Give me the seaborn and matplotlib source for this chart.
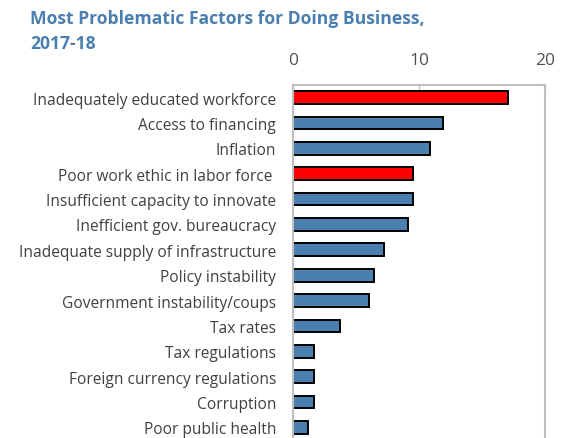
import matplotlib
matplotlib.use("Agg")
import matplotlib.pyplot as plt
import seaborn as sns
import pandas as pd
import numpy as np

factors = [
    "Inadequately educated workforce",
    "Access to financing",
    "Inflation",
    "Poor work ethic in labor force ",
    "Insufficient capacity to innovate",
    "Inefficient gov. bureaucracy",
    "Inadequate supply of infrastructure",
    "Policy instability",
    "Government instability/coups",
    "Tax rates",
    "Tax regulations",
    "Foreign currency regulations",
    "Corruption",
    "Poor public health",
]
shares = [17.1, 11.9, 10.9, 9.5, 9.5, 9.1, 7.2, 6.4, 6.0, 3.7, 1.7, 1.7, 1.7, 1.2]
highlight = [True, False, False, True, False, False, False, False, False, False, False, False, False, False]

BLUE = "#4a7fb0"
RED = "#ff0000"
GRID = "#bfbfbf"
TEXT = "#404040"

df = pd.DataFrame({"factor": factors, "share": shares})
palette = {f: (RED if h else BLUE) for f, h in zip(factors, highlight)}

sns.set_style("white")
plt.rcParams["font.family"] = ["Open Sans", "DejaVu Sans"]

fig = plt.figure(figsize=(5.61, 4.39), dpi=100)
ax = fig.add_axes([293 / 561, -0.0046, 252 / 561, 0.8087])

sns.barplot(data=df, x="share", y="factor", hue="factor", palette=palette,
            saturation=1, legend=False, orient="h", width=0.5,
            edgecolor="black", linewidth=1.4, ax=ax)

ax.set_xlim(0, 20)
ax.set_ylim(len(factors) - 0.5, -0.5)
ax.set_xlabel("")
ax.set_ylabel("")

ax.xaxis.tick_top()
ax.set_xticks([0, 10, 20])
ax.tick_params(axis="x", direction="in", length=6, width=1, color=GRID,
               labelsize=12.5, labelcolor="#505050", pad=12)
ax.tick_params(axis="y", length=0, labelsize=11.2, labelcolor=TEXT, pad=12)
ax.set_yticks(np.arange(len(factors)) + 0.5, minor=True)
ax.tick_params(axis="y", which="minor", direction="in", length=5, width=1, color=GRID)

for side in ["top", "left", "right", "bottom"]:
    ax.spines[side].set_color(GRID)
    ax.spines[side].set_linewidth(1.5)
ax.spines["bottom"].set_visible(False)

fig.text(30 / 561, 1 - 10 / 439, "Most Problematic Factors for Doing Business,\n2017-18",
         ha="left", va="top", fontsize=12.6, fontweight="bold", color="#4a7fb0",
         linespacing=1.5)

fig.savefig("out.png", dpi=100)
